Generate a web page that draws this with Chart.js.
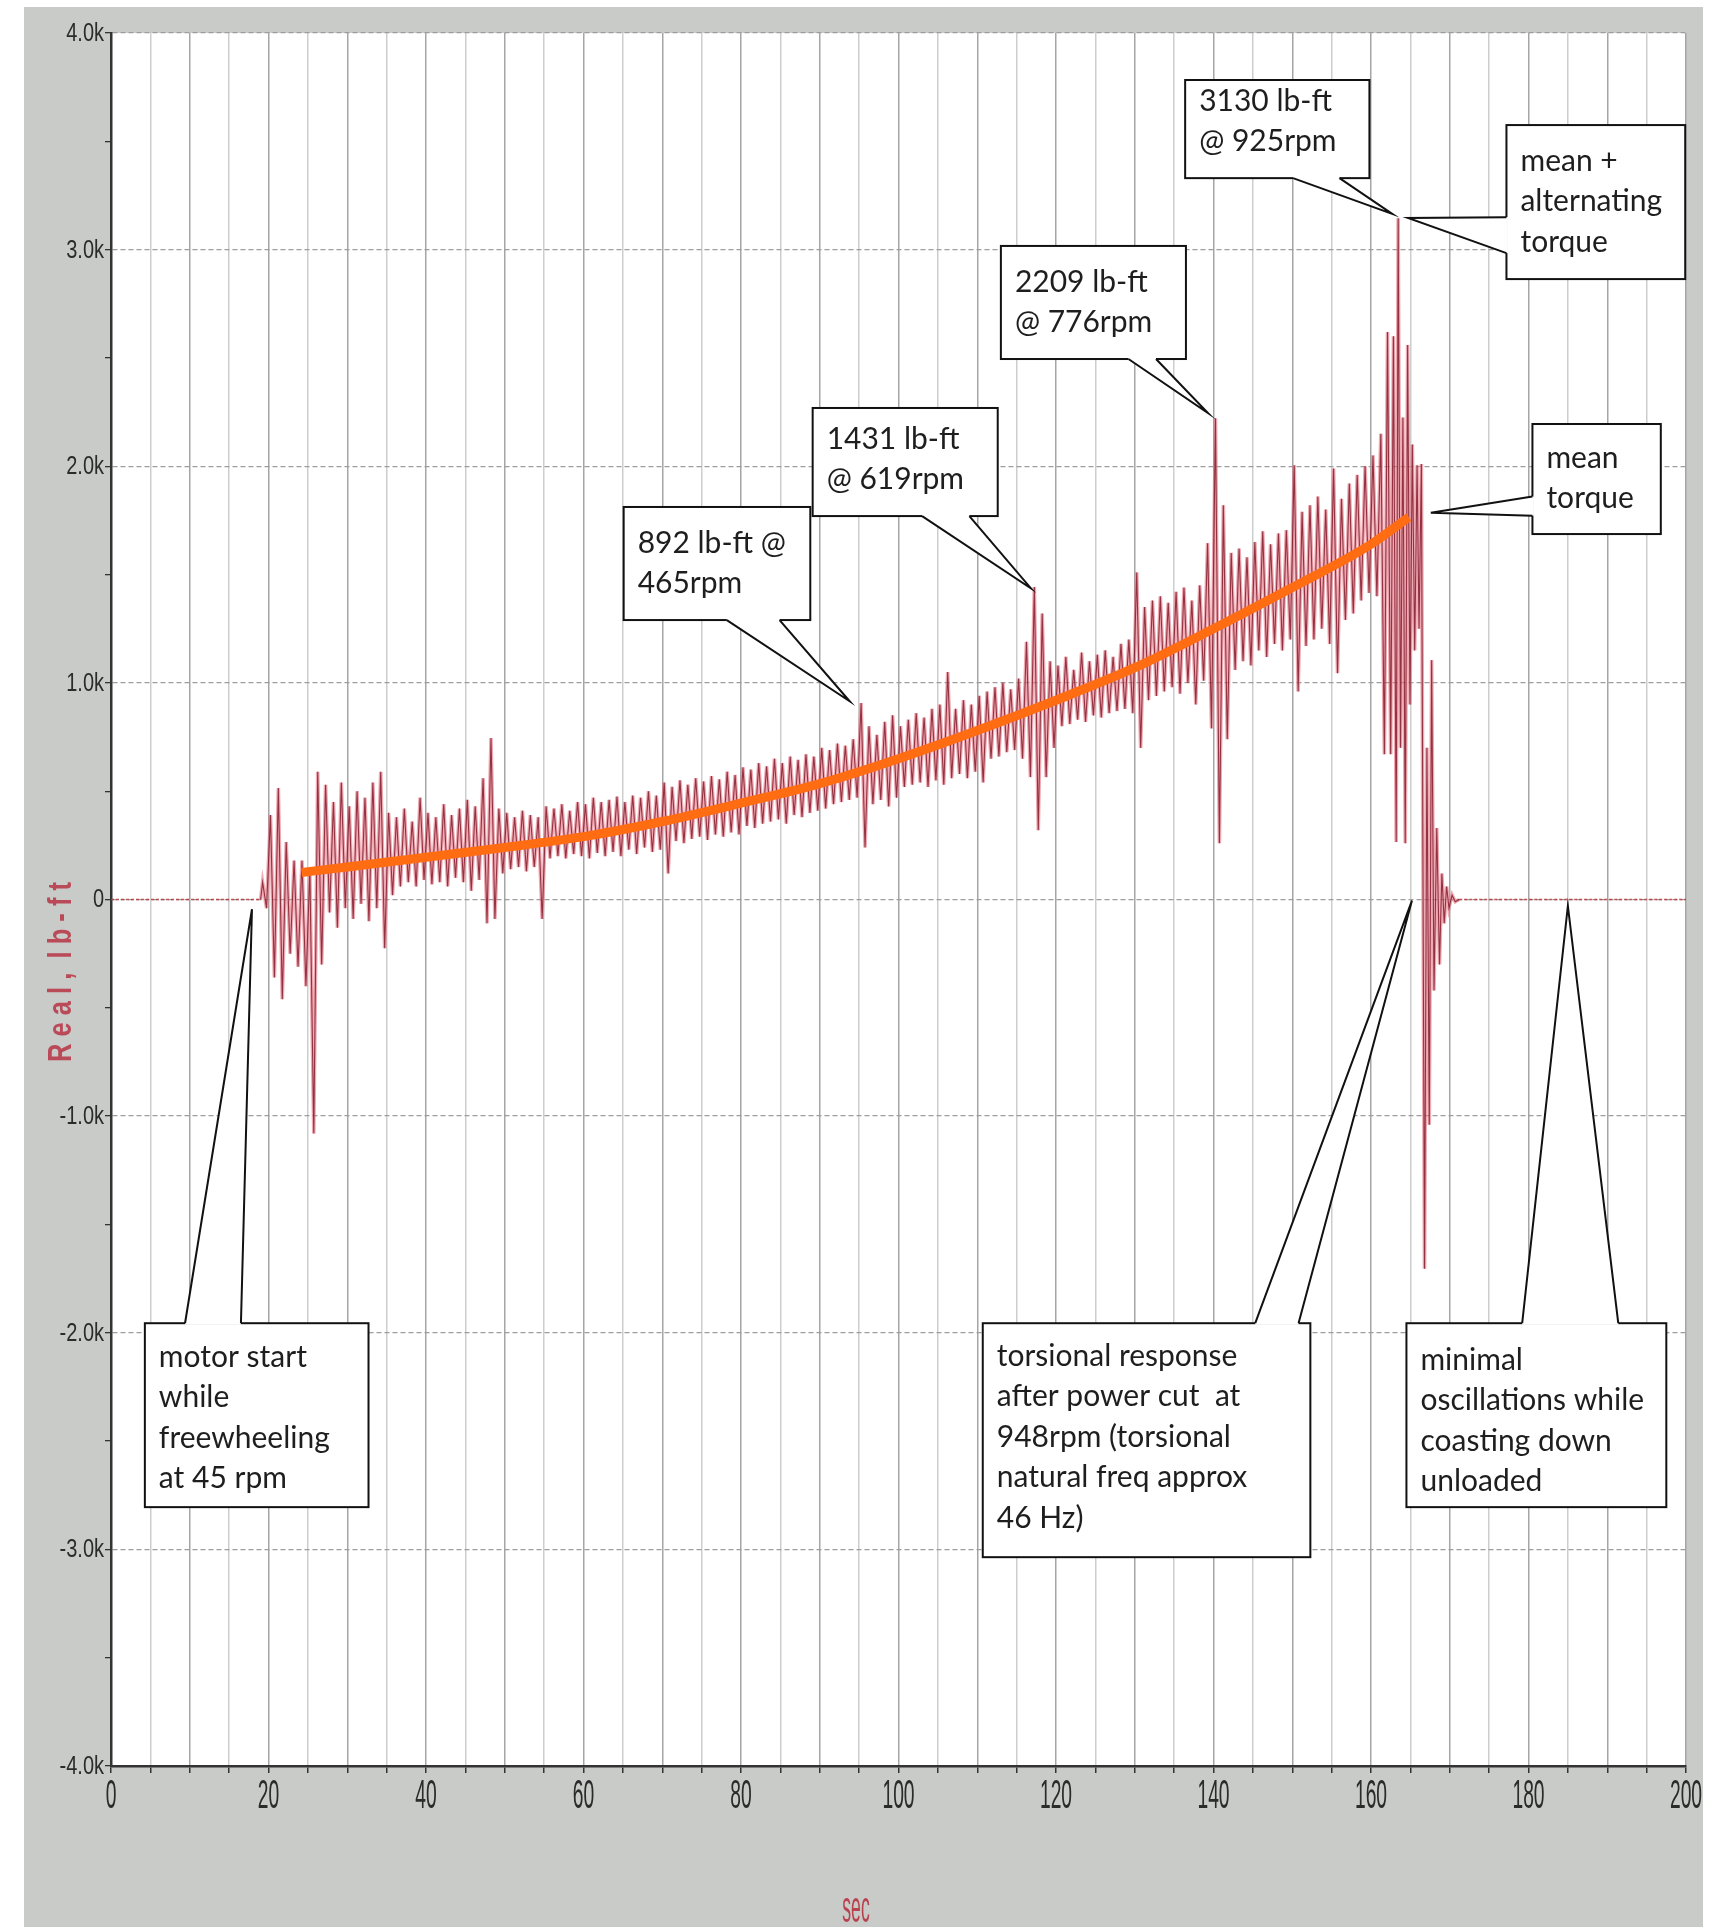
<!DOCTYPE html>
<html>
<head>
<title>Shaft torque during start-up</title>
<style>
body { margin:0; background:#fff; }
canvas { display:block; }
</style>
</head>
<body>
<canvas id="myChart" width="1720" height="1927"></canvas>
<script src="https://cdn.jsdelivr.net/npm/chart.js@4.4.0/dist/chart.umd.min.js"></script>
<script>
// axis labels
var xTickLabels = [0, 20, 40, 60, 80, 100, 120, 140, 160, 180, 200];
var yTickValues = [-4000, -3000, -2000, -1000, 0, 1000, 2000, 3000, 4000];
var yTickLabels = ['-4.0k', '-3.0k', '-2.0k', '-1.0k', '0', '1.0k', '2.0k', '3.0k', '4.0k'];

// torque trace, one high and one low per second, starting at startSec (lb-ft)
var startSec = 19;
var hiPeaks = [
  80, 390, 515, 265, 180, 180, 140, 590, 530, 450,
  540, 430, 500, 470, 540, 590, 400, 380, 420, 360,
  470, 400, 380, 440, 390, 420, 460, 430, 560, 745,
  420, 400, 380, 410, 390, 380, 430, 420, 440, 410,
  450, 440, 470, 450, 460, 475, 450, 480, 470, 500,
  480, 540, 520, 550, 530, 560, 545, 570, 555, 590,
  575, 610, 600, 630, 615, 650, 630, 660, 645, 670,
  660, 700, 690, 720, 710, 740, 907, 800, 760, 820,
  850, 800, 830, 860, 840, 880, 900, 1050, 880, 920,
  900, 940, 960, 980, 1000, 970, 1020, 1190, 1442, 1320,
  1100, 1080, 1120, 1060, 1140, 1100, 1130, 1150, 1120, 1180,
  1200, 1510, 1350, 1380, 1400, 1370, 1420, 1440, 1380, 1450,
  1645, 2222, 1820, 1600, 1620, 1580, 1650, 1700, 1640, 1690,
  1705, 2005, 1790, 1820, 1860, 1800, 1990, 1850, 1920, 1960,
  2000
];
var loPeaks = [
  -40, -360, -460, -250, -310, -400, -1080, -300, -60, -130,
  -40, -90, -20, -100, -40, -225, 20, 60, 80, 60,
  90, 70, 80, 60, 100, 80, 40, 90, -110, -90,
  120, 140, 150, 130, 150, -90, 190, 200, 190, 210,
  200, 190, 215, 200, 220, 200, 230, 210, 240, 220,
  230, 120, 270, 260, 280, 290, 275, 300, 290, 310,
  300, 340, 330, 350, 360, 370, 350, 390, 380, 400,
  410, 420, 440, 450, 460, 470, 240, 440, 460, 430,
  470, 520, 530, 540, 520, 550, 530, 560, 580, 560,
  590, 540, 650, 660, 680, 690, 650, 565, 320, 565,
  700, 800, 810, 830, 820, 850, 840, 860, 870, 880,
  860, 700, 920, 940, 960, 980, 950, 1000, 900, 1010,
  790, 260, 740, 1060, 1100, 1080, 1150, 1120, 1180, 1150,
  1200, 960, 1170, 1200, 1250, 1180, 1045, 1290, 1320, 1380,
  1415
];

// last seconds before and after the power cut
var tailSec = [160.25, 160.75, 161.25, 161.7, 162.1, 162.5, 162.85, 163.2, 163.45, 163.75,
  164.05, 164.35, 164.65, 164.95, 165.25, 165.55, 165.85, 166.1, 166.4, 166.8,
  167.1, 167.4, 167.7, 168.0, 168.35, 168.7, 169.0, 169.3, 169.6, 169.9,
  170.3, 170.7, 171.2];
var tailVal = [2050, 1400, 2150, 670, 2620, 670, 2600, 265, 3145, 700,
  2225, 260, 2560, 900, 2100, 1150, 2005, 1250, 2010, -1705,
  700, -1040, 1105, -420, 330, -300, 120, -110, 60, -40,
  20, -10, 0];

// mean torque curve (orange)
var meanSec = [24.2, 30, 40, 50, 60, 70, 80, 90, 100, 110, 120, 130, 140, 150, 160, 164.8];
var meanVal = [125, 150, 195, 240, 290, 360, 445, 535, 650, 780, 920, 1070, 1250, 1440, 1640, 1765];

var trace = [{x: startSec, y: 0}];
for (var i = 0; i < hiPeaks.length; i++) {
  trace.push({x: startSec + i + 0.25, y: hiPeaks[i]});
  trace.push({x: startSec + i + 0.75, y: loPeaks[i]});
}
for (var j = 0; j < tailSec.length; j++) trace.push({x: tailSec[j], y: tailVal[j]});

var idle = [{x: 0, y: 0}, {x: startSec, y: 0}, {x: 100, y: null},
  {x: tailSec[tailSec.length - 1], y: 0}, {x: 200, y: 0}];

var meanPts = meanSec.map(function (s, k) { return {x: s, y: meanVal[k]}; });

// callouts: box [x1, x2, yTop, yBottom] and tail [base1, base2, tip] in data units
var callouts = [
  {lines: ['892 lb-ft @', '465rpm'], box: [65.1, 88.8, 1812, 1290], tail: [[78.2, 1290], [84.9, 1290], [93.8, 915]], dy: 36},
  {lines: ['1431 lb-ft', '@ 619rpm'], box: [89.1, 112.6, 2269, 1770], tail: [[103, 1770], [109, 1770], [116.8, 1437]], dy: 31},
  {lines: ['2209 lb-ft', '@ 776rpm'], box: [113, 136.5, 3017, 2495], tail: [[129.2, 2495], [132.7, 2495], [139.3, 2246]], dy: 36},
  {lines: ['3130 lb-ft', '@ 925rpm'], box: [136.4, 159.8, 3783, 3330], tail: [[150.1, 3330], [156, 3330], [162.7, 3165]], dy: 21},
  {lines: ['mean +', 'alternating', 'torque'], box: [177.2, 199.9, 3575, 2864], tail: [[177.2, 3150], [177.2, 2984], [164.7, 3146]], dy: 36},
  {lines: ['mean', 'torque'], box: [180.5, 196.8, 2195, 1687], tail: [[180.5, 1860], [180.5, 1772], [167.6, 1785]], dy: 34},
  {lines: ['motor start', 'while', 'freewheeling', 'at 45 rpm'], box: [4.3, 32.7, -1956, -2805], tail: [[9.4, -1956], [16.5, -1956], [17.9, -45]], dy: 34},
  {lines: ['torsional response', 'after power cut  at', '948rpm (torsional', 'natural freq approx', '46 Hz)'], box: [110.7, 152.3, -1956, -3036], tail: [[145.3, -1956], [150.8, -1956], [165.2, -5]], dy: 33},
  {lines: ['minimal', 'oscillations while', 'coasting down', 'unloaded'], box: [164.5, 197.5, -1956, -2805], tail: [[179.2, -1956], [191.4, -1956], [185, -30]], dy: 37}
];

var sans = '"Liberation Sans", Arial, sans-serif';

var panelPlugin = {
  id: 'panel',
  beforeDraw: function (chart) {
    var ctx = chart.ctx, a = chart.chartArea;
    ctx.save();
    ctx.fillStyle = '#fff';
    ctx.fillRect(0, 0, chart.width, chart.height);
    ctx.fillStyle = '#c9cbc9';
    ctx.fillRect(24, 7, 1679, 1920);
    ctx.fillStyle = '#fff';
    ctx.fillRect(a.left, a.top, a.right - a.left, a.bottom - a.top);
    ctx.restore();
  },
  afterDatasetsDraw: function (chart) {
    var ctx = chart.ctx, xs = chart.scales.x, ys = chart.scales.y;
    ctx.save();
    callouts.forEach(function (c) {
      var l = xs.getPixelForValue(c.box[0]), r = xs.getPixelForValue(c.box[1]);
      var t = ys.getPixelForValue(c.box[2]), b = ys.getPixelForValue(c.box[3]);
      var p = c.tail.map(function (q) { return [xs.getPixelForValue(q[0]), ys.getPixelForValue(q[1])]; });
      ctx.fillStyle = '#fff';
      ctx.fillRect(l, t, r - l, b - t);
      ctx.strokeStyle = '#111';
      ctx.lineWidth = 2;
      ctx.strokeRect(l, t, r - l, b - t);
      // tail
      ctx.beginPath();
      ctx.moveTo(p[0][0], p[0][1]); ctx.lineTo(p[2][0], p[2][1]); ctx.lineTo(p[1][0], p[1][1]);
      ctx.closePath();
      ctx.fill();
      ctx.beginPath();
      ctx.moveTo(p[0][0], p[0][1]); ctx.lineTo(p[1][0], p[1][1]);
      ctx.strokeStyle = '#fff'; ctx.lineWidth = 3; ctx.stroke();
      ctx.beginPath();
      ctx.moveTo(p[0][0], p[0][1]); ctx.lineTo(p[2][0], p[2][1]); ctx.lineTo(p[1][0], p[1][1]);
      ctx.strokeStyle = '#111'; ctx.lineWidth = 2; ctx.stroke();
      // text
      ctx.fillStyle = '#1e1e1e';
      ctx.font = '30px Lato, "Noto Sans", sans-serif';
      ctx.textBaseline = 'middle';
      ctx.textAlign = 'left';
      c.lines.forEach(function (s, k) { ctx.fillText(s, l + 14, t + c.dy + k * 40.5); });
    });
    ctx.restore();
  },
  afterDraw: function (chart) {
    var ctx = chart.ctx, xs = chart.scales.x, ys = chart.scales.y;
    // condensed tick labels placed on the scales
    ctx.save();
    ctx.fillStyle = '#2b2b2b';
    ctx.font = '41px ' + sans;
    ctx.textAlign = 'center';
    ctx.textBaseline = 'alphabetic';
    xTickLabels.forEach(function (v) {
      ctx.save();
      ctx.translate(xs.getPixelForValue(v), xs.top + 42);
      ctx.scale(0.47, 1);
      ctx.fillText(String(v), 0, 0);
      ctx.restore();
    });
    ctx.font = '25px ' + sans;
    ctx.textAlign = 'right';
    ctx.textBaseline = 'middle';
    yTickValues.forEach(function (v, k) {
      ctx.save();
      ctx.translate(ys.right - 7, ys.getPixelForValue(v) + 1);
      ctx.scale(0.8, 1);
      ctx.fillText(yTickLabels[k], 0, 0);
      ctx.restore();
    });
    ctx.restore();
    // axis titles
    ctx.save();
    ctx.fillStyle = '#b8434f';
    ctx.textAlign = 'center';
    ctx.textBaseline = 'alphabetic';
    ctx.font = '44px ' + sans;
    ctx.translate(856, 1922);
    ctx.scale(0.4, 1);
    ctx.fillText('sec', 0, 0);
    ctx.restore();
    ctx.save();
    ctx.fillStyle = 'rgba(184,60,75,0.9)';
    ctx.textAlign = 'center';
    ctx.textBaseline = 'alphabetic';
    ctx.font = 'bold 34px ' + sans;
    var title = 'R e a l ,  l b - f t';
    var w = ctx.measureText(title).width;
    ctx.translate(71, 972);
    ctx.rotate(-Math.PI / 2);
    ctx.scale(180 / w, 1);
    ctx.fillText(title, 0, 0);
    ctx.restore();
  }
};

var config = {
  type: 'line',
  data: {
    datasets: [
      {label: 'mean torque', data: meanPts, borderColor: '#ff6c12', borderWidth: 9,
        tension: 0.4, cubicInterpolationMode: 'monotone', pointRadius: 0, order: 0},
      {label: 'torque', data: trace, borderColor: 'rgba(125,20,38,0.8)', borderWidth: 1.1,
        pointRadius: 0, order: 1},
      {label: 'torque halo', data: trace, borderColor: 'rgba(226,112,126,0.6)', borderWidth: 3.6,
        pointRadius: 0, order: 2},
      {label: 'idle', data: idle, borderColor: 'rgba(190,50,60,0.85)', borderWidth: 1.6,
        borderDash: [3, 2], pointRadius: 0, order: 3}
    ]
  },
  options: {
    responsive: false,
    animation: false,
    devicePixelRatio: 1,
    events: [],
    layout: {padding: {left: 6, right: 34, top: 33, bottom: 0}},
    plugins: {legend: {display: false}, tooltip: {enabled: false}},
    scales: {
      x: {
        type: 'linear', min: 0, max: 200,
        afterFit: function (s) { s.height = 161; },
        ticks: {stepSize: 5, autoSkip: false, maxRotation: 0, display: false},
        grid: {
          color: function (c) { return c.tick && c.tick.value % 10 === 0 ? '#a5a5a5' : '#cdcdcd'; },
          lineWidth: 1.5, tickLength: 7, tickColor: '#333'
        },
        border: {color: '#333', width: 2.5}
      },
      y: {
        min: -4000, max: 4000,
        afterFit: function (s) { s.width = 105; },
        ticks: {stepSize: 500, autoSkip: false, display: false},
        grid: {
          color: function (c) { return c.tick && c.tick.value % 1000 === 0 ? '#9d9d9d' : 'rgba(0,0,0,0)'; },
          lineWidth: 1.3, tickLength: 6, tickColor: '#333'
        },
        border: {color: '#333', width: 2.5, dash: [5, 3]}
      }
    }
  },
  plugins: [panelPlugin]
};

window.myLine = new Chart(document.getElementById('myChart').getContext('2d'), config);
</script>
</body>
</html>
